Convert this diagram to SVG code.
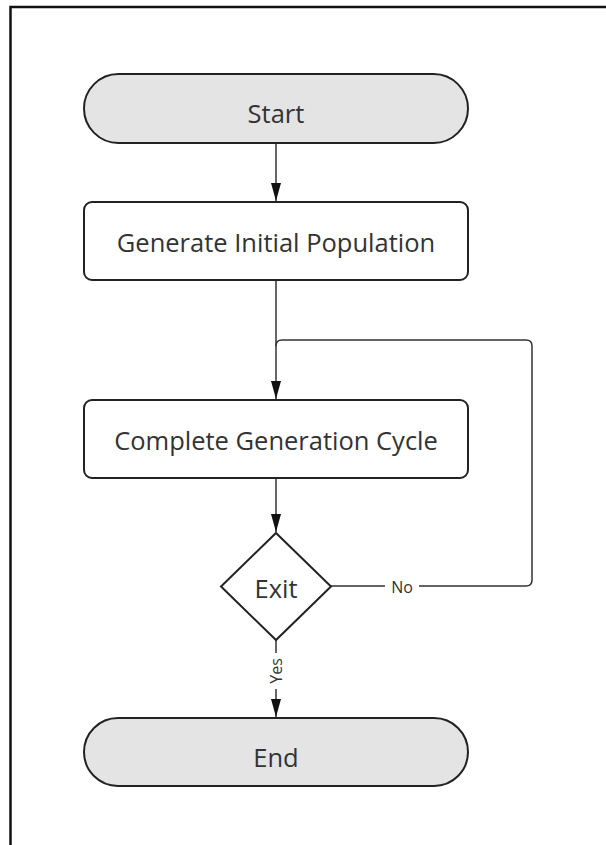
<svg xmlns="http://www.w3.org/2000/svg" width="606" height="845" viewBox="0 0 606 845">
  <style>
    .term { fill: #e4e4e4; stroke: #222; stroke-width: 2; }
    .proc { fill: #fff; stroke: #222; stroke-width: 2; }
    .lbl { font-family: "Open Sans", "DejaVu Sans", sans-serif; font-size: 25.5px; fill: #333; text-anchor: middle; dominant-baseline: central; }
    .edge { fill: none; stroke: #333; stroke-width: 1.5; }
    .elbl { font-family: "Open Sans", "DejaVu Sans", sans-serif; font-size: 16px; fill: #333; text-anchor: middle; dominant-baseline: central; }
  </style>
  <defs>
    <marker id="arrow" viewBox="0 0 18 10" refX="18" refY="5" markerWidth="18" markerHeight="10" markerUnits="userSpaceOnUse" orient="auto">
      <path d="M0,0 L18,5 L0,10 z" fill="#111"/>
    </marker>
  </defs>
  <rect width="606" height="845" fill="#fff"/>
  <!-- page frame -->
  <path d="M10.5,845 V7 H606" fill="none" stroke="#111" stroke-width="2.5"/>

  <g id="edges">
    <line class="edge" x1="276" y1="143" x2="276" y2="201" marker-end="url(#arrow)"/>
    <line class="edge" x1="276" y1="280" x2="276" y2="399" marker-end="url(#arrow)"/>
    <line class="edge" x1="276" y1="478" x2="276" y2="532" marker-end="url(#arrow)"/>
    <!-- No: back to the cycle -->
    <path class="edge" d="M331,586 H385 M419,586 H526 Q532,586 532,580 V346 Q532,340 526,340 H282 Q276,340 276,346"/>
    <text class="elbl" x="402" y="587">No</text>
    <!-- Yes: to End -->
    <path class="edge" d="M276,640 V653 M276,689 V717" marker-end="url(#arrow)"/>
    <text class="elbl" transform="translate(276,671) rotate(-90)">Yes</text>
  </g>

  <g id="start">
    <rect class="term" x="84" y="74" width="384" height="69" rx="34.5"/>
    <text class="lbl" x="276" y="113">Start</text>
  </g>
  <g id="generate">
    <rect class="proc" x="84" y="202" width="384" height="78" rx="8"/>
    <text class="lbl" x="276" y="241.5">Generate Initial Population</text>
  </g>
  <g id="cycle">
    <rect class="proc" x="84" y="400" width="384" height="78" rx="8"/>
    <text class="lbl" x="276" y="439.5">Complete Generation Cycle</text>
  </g>
  <g id="exit">
    <polygon class="proc" points="276,533 331,586.5 276,640 221,586.5"/>
    <text class="lbl" x="276" y="587.5">Exit</text>
  </g>
  <g id="end">
    <rect class="term" x="84" y="718" width="384" height="68" rx="34"/>
    <text class="lbl" x="276" y="757">End</text>
  </g>
</svg>
